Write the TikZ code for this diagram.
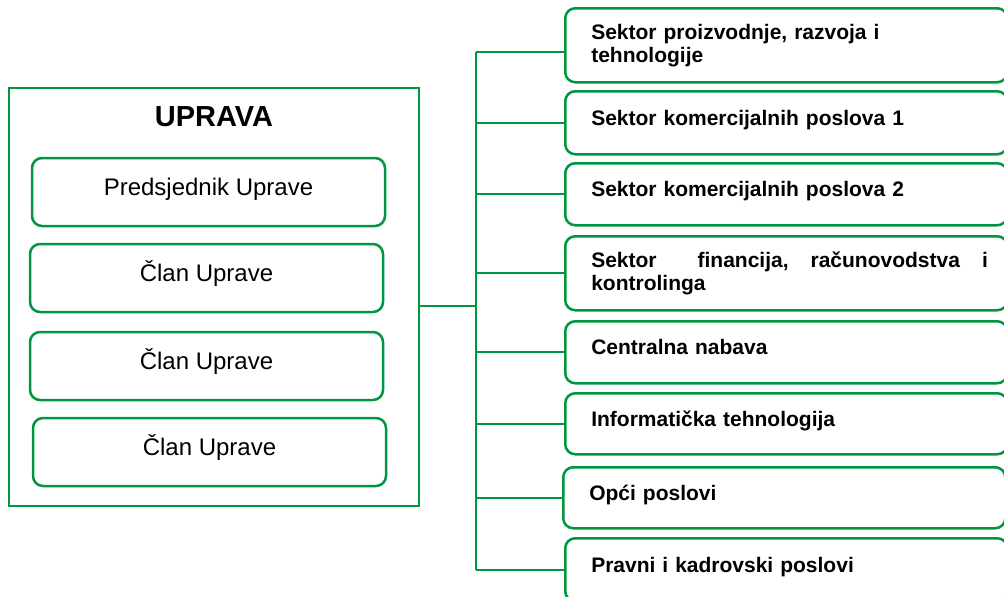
\documentclass[tikz,border=0pt]{standalone}
\usepackage{fontspec}
\setmainfont{Liberation Sans}
\definecolor{zelena}{RGB}{0,150,64}

\begin{document}
\begin{tikzpicture}[x=1pt,y=-1pt]

		\tikzstyle{okvir}=[rectangle,draw=zelena,line width=2.7pt,
			minimum width=410pt,minimum height=418pt,inner sep=0pt]
		\tikzstyle{clan}=[rectangle,rounded corners=10pt,
			draw=zelena,line width=2.5pt,
			minimum width=353pt,minimum height=68pt,inner sep=0pt,
			font=\fontsize{24}{28}\selectfont,text height=18pt,text depth=11pt]
		\tikzstyle{sektor}=[rectangle,rounded corners=10pt,
			draw=zelena,line width=2.5pt,anchor=north west,
			text width=390pt,inner xsep=26pt,inner ysep=2pt,align=left,
			font=\fontsize{21}{23}\selectfont\bfseries]
		\tikzstyle{jedan}=[text height=15pt,text depth=10pt]
		\tikzstyle{veza}=[draw=zelena,line width=2pt]

		\useasboundingbox (0,0) rectangle (1004,597);
		\clip (0,0) rectangle (1004,597);

		\node[okvir]	(uprava)	at (214,297)	{};
		\node[font=\fontsize{29}{34}\selectfont\bfseries]	(naslov)	at (214,117)	{UPRAVA};
		\node[clan]	(predsjednik)	at (208.5,192)	{Predsjednik Uprave};
		\node[clan]	(clan1)	at (206.5,278)	{Član Uprave};
		\node[clan]	(clan2)	at (206.5,366)	{Član Uprave};
		\node[clan]	(clan3)	at (209.5,452)	{Član Uprave};

		\node[sektor,minimum height=74pt]	(b1)	at (564,7)	{Sektor proizvodnje, razvoja i\\tehnologije};
		\node[sektor,jedan,minimum height=63pt]	(b2)	at (564,90)	{Sektor komercijalnih poslova 1};
		\node[sektor,jedan,minimum height=62pt]	(b3)	at (564,162)	{Sektor komercijalnih poslova 2};
		\node[sektor,minimum height=74pt]	(b4)	at (564,235)	{\mbox{Sektor\hspace{41pt}financija,\hspace{22pt}računovodstva\hspace{22pt}i}\\kontrolinga};
		\node[sektor,jedan,minimum height=62pt]	(b5)	at (564,320)	{Centralna nabava};
		\node[sektor,jedan,minimum height=61pt]	(b6)	at (564,392)	{Informatička tehnologija};
		\node[sektor,jedan,minimum height=61pt]	(b7)	at (562,466)	{Opći poslovi};
		\node[sektor,jedan,minimum height=63pt]	(b8)	at (564,537)	{Pravni i kadrovski poslovi};

		\coordinate (deblo) at (476,306);
		\coordinate (g1) at ([yshift=-7pt]b1.west);

		\draw[veza] (uprava.east |- deblo) -- (deblo);
		\draw[veza] (g1 -| deblo) -- (deblo |- b8.west);

		\draw[veza] (g1 -| deblo) -- (g1);
		\draw[veza] (deblo |- b2.west) -- (b2.west);
		\draw[veza] (deblo |- b3.west) -- (b3.west);
		\draw[veza] (deblo |- b4.west) -- (b4.west);
		\draw[veza] (deblo |- b5.west) -- (b5.west);
		\draw[veza] (deblo |- b6.west) -- (b6.west);
		\draw[veza] (deblo |- b7.west) -- (b7.west);
		\draw[veza] (deblo |- b8.west) -- (b8.west);

	\end{tikzpicture}
\end{document}
